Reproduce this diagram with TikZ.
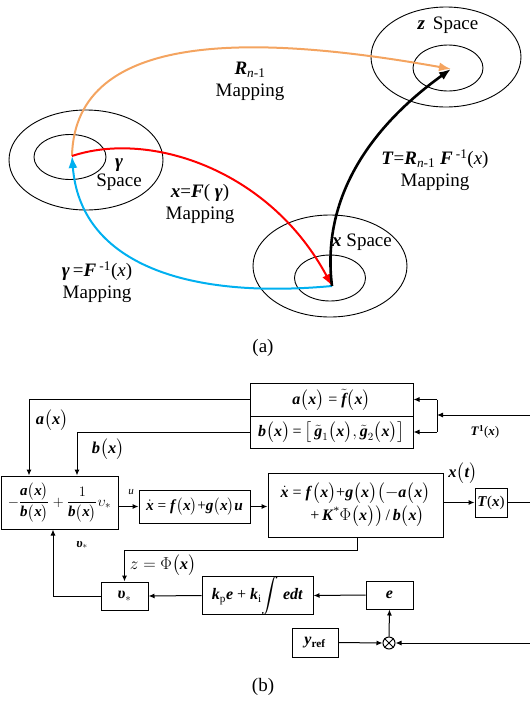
\documentclass[tikz,border=0pt]{standalone}
\usepackage{fontspec}
\setmainfont{Liberation Serif}
\usepackage{amsmath}
\usetikzlibrary{shapes.geometric,arrows.meta}
\newcommand{\bi}[1]{\textbf{\textit{#1}}}
\newcommand{\mbi}[1]{\text{\bfseries\itshape #1}}
\newcommand{\pp}[1]{$\bigl($#1$\bigr)$}
\newcommand{\mpp}[1]{\bigl(#1\bigr)}
\begin{document}
\begin{tikzpicture}[x=1pt,y=-1pt,
  sp/.style={draw,ellipse,inner sep=0pt,line width=0.9pt},
  big/.style={font=\fontsize{19}{22}\selectfont,align=center},
  curve/.style={line width=2pt,-{Latex[length=12pt,width=9pt]}},
  blk/.style={draw,line width=1pt,inner sep=0pt,font=\fontsize{16}{19}\selectfont,align=center},
  lab/.style={font=\fontsize{16.5}{19}\selectfont},
  ln/.style={line width=1pt},
  arr/.style={line width=1pt,-{Latex[length=6pt,width=5pt]}}]
\useasboundingbox (0,0) rectangle (530,702);
% ---------- (a) ----------
\node[sp,minimum width=154pt,minimum height=100pt] (gout) at (86,160) {};
\node[sp,minimum width=72pt,minimum height=45pt] (gin) at (70,157) {};
\node[sp,minimum width=150pt,minimum height=100pt] (zout) at (446,57) {};
\node[sp,minimum width=70pt,minimum height=46pt] (zin) at (448,68) {};
\node[sp,minimum width=154pt,minimum height=102pt] (xout) at (330,266) {};
\node[sp,minimum width=71pt,minimum height=46pt] (xin) at (330,278) {};
\coordinate (pg) at (72,156);
\coordinate (pz) at (451,69);
\coordinate (px) at (332,286);
\node[big] (zlab) at (448,25) {\bi{z}\, Space};
\node[big] (glab) at (119,175) {\bi{γ}\\[-3pt]Space};
\node[big] (xlab) at (362,242) {\bi{x} Space};
\node[big] (rlab) at (250,81) {\bi{R}\textsubscript{\textit{n}-1}\\Mapping};
\node[big] (tlab) at (435,170) {\bi{T}=\bi{R}\textsubscript{\textit{n}-1} \bi{F}\,\textsuperscript{-1}(\textit{x})\\Mapping};
\node[big] (flab) at (200,204) {\bi{x}=\bi{F}( \bi{γ})\\Mapping};
\node[big] (ilab) at (97,282) {\bi{γ}\,=\bi{F}\,\textsuperscript{-1}(\textit{x})\\Mapping};
\node[big] (alab) at (263,348) {(a)};
\draw[curve,color={rgb,255:red,244;green,164;blue,96}] (pg) .. controls (75,28) and (260,35) .. (pz);
\draw[curve,red] (pg) .. controls (150,130) and (270,170) .. (px);
\draw[curve,color={rgb,255:red,0;green,176;blue,240}] (px) .. controls (180,300) and (80,260) .. (pg);
\draw[curve,black,line width=2.6pt] (px) .. controls (320,190) and (380,120) .. (pz);
% ---------- (b) ----------
\node[blk,minimum width=163pt,minimum height=33pt] (abox) at (331.5,399.5) {\bi{a}\pp{\bi{x}} = $\tilde{\mbi{f}}$\pp{\bi{x}}};
\node[blk,minimum width=163pt,minimum height=32pt] (bbox) at (331.5,432) {\bi{b}\pp{\bi{x}}\,=\,$\bigl[\,\tilde{\mbi{g}}_1\mpp{\mbi{x}},\tilde{\mbi{g}}_2\mpp{\mbi{x}}\bigr]$};
\node[blk,minimum width=117pt,minimum height=53pt,font=\fontsize{15}{18}\selectfont] (lbox) at (59.5,502.5) {$-\dfrac{\mbi{a}\mpp{\mbi{x}}}{\mbi{b}\mpp{\mbi{x}}}+\dfrac{1}{\mbi{b}\mpp{\mbi{x}}}\upsilon_*$};
\node[blk,minimum width=111pt,minimum height=33pt,font=\fontsize{15.3}{18}\selectfont] (box2) at (194.5,506.5) {$\dot{\mbi{x}}$ = \bi{f}\pp{\bi{x}}+\bi{g}\pp{\bi{x}}\bi{u}};
\node[blk,minimum width=175pt,minimum height=64pt] (box3) at (355.5,505) {$\dot{\mbi{x}}$ = \bi{f}\pp{\bi{x}}+\bi{g}\pp{\bi{x}}$\bigl($$-$\bi{a}\pp{\bi{x}}\\[1pt]\hspace*{24pt}+\,\bi{K}\textsuperscript{*}$\Phi$\pp{\bi{x}}$\bigr)$\,/\,\bi{b}\pp{\bi{x}}};
\node[blk,minimum width=32pt,minimum height=29pt,font=\fontsize{15}{18}\selectfont] (tbox) at (491,502.5) {\bi{T}(\bi{x})};
\node[blk,minimum width=47pt,minimum height=28pt] (vbox) at (124.5,596) {\bi{υ}$_*$};
\node[blk,minimum width=111pt,minimum height=33pt] (pibox) at (257.5,595.5) {\bi{k}$_{\mathrm p}$\bi{e} + \bi{k}$_{\mathrm i}\!\displaystyle\int$ \bi{edt}};
\node[blk,minimum width=47pt,minimum height=28pt] (ebox) at (389.5,595) {\bi{e}};
\node[blk,minimum width=46pt,minimum height=29pt] (ybox) at (315,642.5) {\bi{y}\textsubscript{\textbf{ref}}};
\node[draw,circle,line width=1pt,minimum size=12pt,inner sep=0pt] (sum) at (389,643) {};
\draw[line width=0.8pt] (sum.north west) -- (sum.south east) (sum.north east) -- (sum.south west);
\coordinate (rin) at (530,415);
\coordinate (rout) at (530,502.5);
\coordinate (rfb) at (530,643);
\coordinate (sj) at (437,415);
\coordinate (za) at (29,399.5);
\coordinate (zb) at (77,432);
\coordinate (zc) at (357,550);
\coordinate (zd) at (124.5,550);
\coordinate (ze) at (53,596);
% labels
\node[lab] (la) at (52,420) {\bi{a}\pp{\bi{x}}};
\node[lab] (lb) at (108,449) {\bi{b}\pp{\bi{x}}};
\node[font=\fontsize{11}{12}\selectfont] (lu) at (131,492) {\textit{u}};
\node[lab] (lx) at (463,473) {\bi{x}\pp{\bi{t}}};
\node[font=\fontsize{13}{15}\selectfont] (lt) at (485,432) {\bi{T}\textsuperscript{\textbf{1}}(\bi{x})};
\node[lab] (lz) at (163,565) {$z=\Phi$\pp{\bi{x}}};
\node[font=\fontsize{13}{15}\selectfont] (lv) at (82,545) {\bi{υ}$_*$};
\node[big] (blab) at (263,687) {(b)};
% connectors
\draw[arr] (rin) -- (sj);
\draw[ln] (sj |- abox) -- (sj |- bbox);
\draw[arr] (sj |- abox) -- (abox.east);
\draw[arr] (sj |- bbox) -- (bbox.east);
\draw[arr] (abox.west) -- (za) -- (za |- lbox.north);
\draw[arr] (bbox.west) -- (zb) -- (zb |- lbox.north);
\draw[arr] (lbox.east |- box2) -- (box2.west);
\draw[arr] (box2.east) -- (box3.west |- box2);
\draw[arr] (box3.east |- tbox) -- (tbox.west);
\draw[ln] (tbox.east) -- (rout);
\draw[arr] (zc |- box3.south) -- (zc) -- (zd) -- (vbox.north);
\draw[arr] (vbox.west) -- (ze) -- (ze |- lbox.south);
\draw[arr] (pibox.west) -- (vbox.east);
\draw[arr] (ebox.west) -- (pibox.east);
\draw[arr] (sum.north) -- (ebox.south);
\draw[arr] (ybox.east) -- (sum.west);
\draw[arr] (rfb) -- (sum.east);
\end{tikzpicture}
\end{document}
